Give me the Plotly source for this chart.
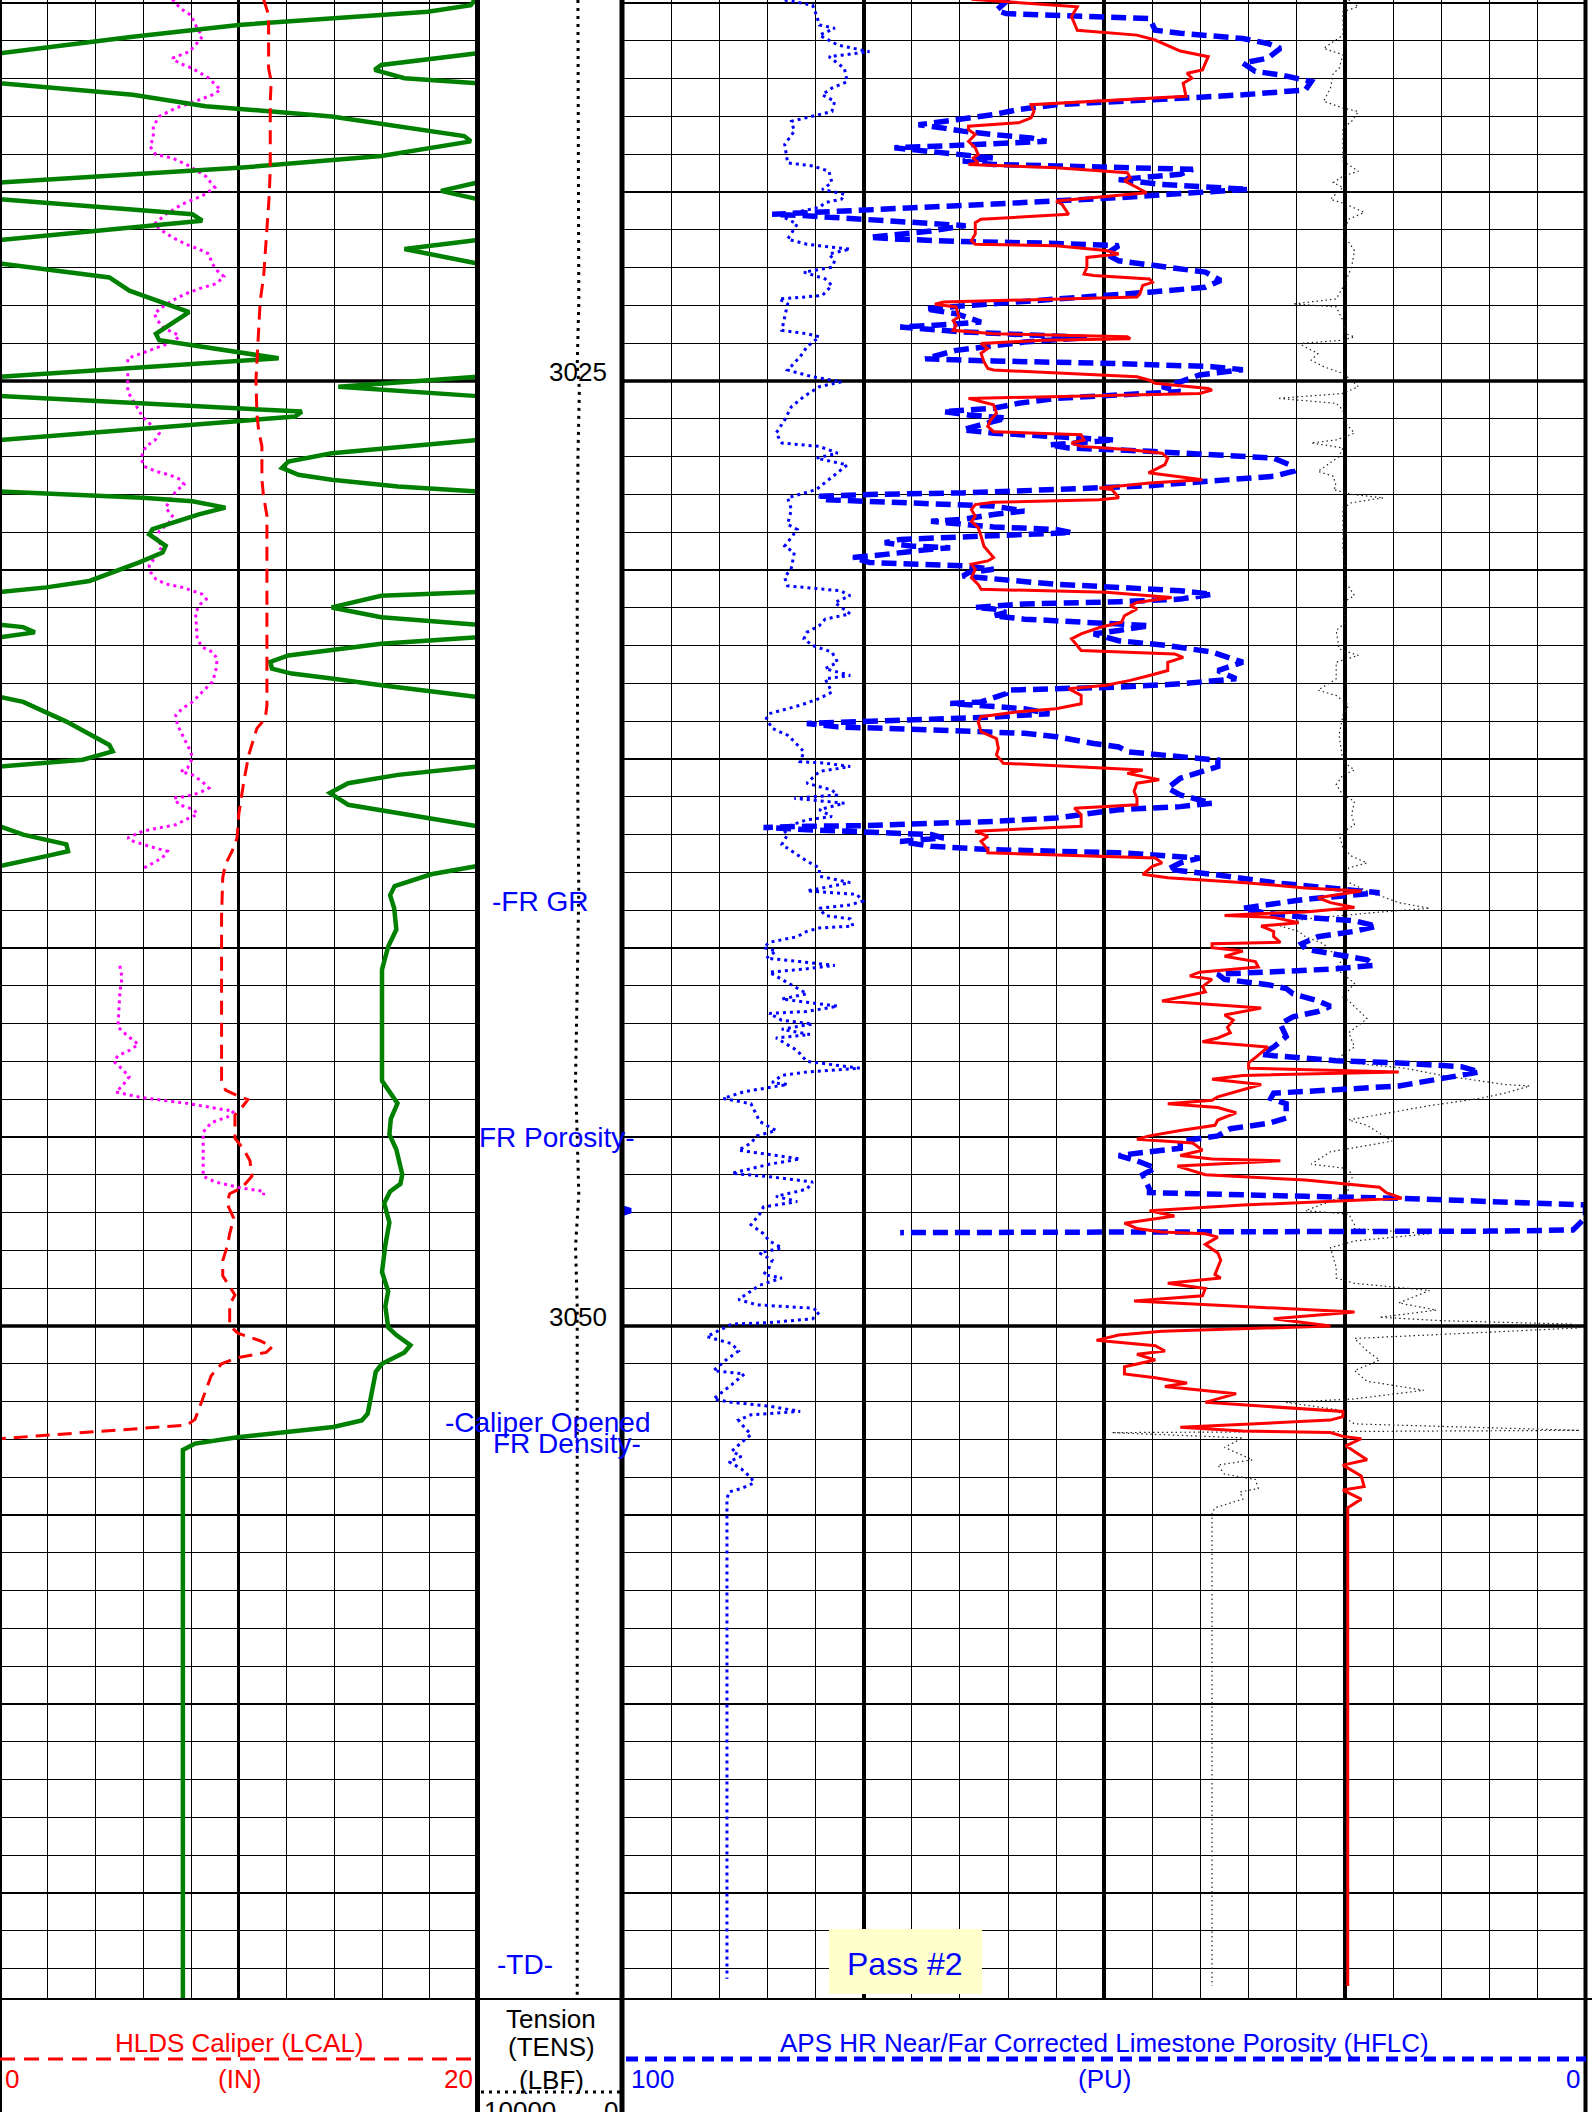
import math
import plotly.graph_objects as go

# ------------------------------------------------------------------ data
# Left track (0-20 scale). Green curve stored unwrapped (wraps every 20 units).
GREEN = [
(3014.90,19.9),(3015.06,19.72),(3015.23,17.92),(3015.58,10.0),(3015.89,5.56),(3016.33,0.0),
(3016.64,-4.03),(3016.77,-4.31),(3016.99,-3.06),(3017.12,0.0),
(3017.43,5.56),(3017.73,8.61),(3018.00,13.89),(3018.52,19.44),(3018.66,19.72),(3019.05,15.97),(3019.36,10.0),(3019.75,0.0),
(3019.97,-1.53),(3020.19,0.0),
(3020.59,8.06),(3020.76,8.47),(3021.27,0.0),
(3021.51,-3.06),(3021.89,0.0),
(3022.26,4.58),(3022.61,5.42),(3023.18,7.92),(3023.75,6.53),(3023.92,6.67),(3024.40,11.67),(3024.89,0.0),
(3025.15,-5.83),(3025.40,0.0),
(3025.81,12.64),(3025.94,12.36),(3026.56,0.0),
(3026.91,-6.11),(3027.13,-7.92),(3027.30,-8.19),(3027.48,-7.5),(3027.61,-6.11),(3027.79,-3.33),(3027.92,0.0),
(3028.09,5.97),(3028.18,8.06),(3028.35,9.44),(3028.53,8.33),(3028.92,6.39),(3029.06,6.25),(3029.36,6.94),(3029.54,6.81),(3029.80,5.83),(3030.29,3.75),(3030.46,1.94),(3030.58,0.0),
(3030.68,-4.03),(3030.99,-6.11),(3031.25,-4.03),(3031.45,0.0),
(3031.51,0.97),(3031.65,1.46),(3031.78,0.0),
(3031.95,-4.03),(3032.26,-7.92),(3032.43,-8.68),(3032.61,-8.61),(3032.74,-7.78),(3032.87,-6.11),(3033.05,-4.03),(3033.36,0.0),
(3033.49,0.97),(3034.01,2.78),(3034.63,4.58),(3034.80,4.72),(3035.02,3.47),(3035.20,0.0),
(3035.42,-3.33),(3035.64,-5.42),(3035.90,-6.18),(3036.21,-5.42),(3036.43,-3.33),(3036.78,0.0),
(3037.00,0.97),(3037.26,2.78),(3037.44,2.85),(3037.57,1.94),(3037.83,0.0),
(3038.05,-1.94),(3038.36,-3.47),(3038.60,-3.66),(3038.95,-3.49),(3039.51,-3.40),(3039.96,-3.74),(3040.57,-4.0),
(3043.51,-4.0),(3043.81,-3.66),(3044.11,-3.35),(3044.52,-3.63),(3044.93,-3.69),(3045.33,-3.40),(3045.99,-3.15),
(3046.24,-3.23),(3046.44,-3.66),(3046.75,-3.91),(3047.26,-3.69),(3047.86,-3.86),(3048.57,-4.0),(3049.08,-3.74),
(3049.48,-3.86),(3050.04,-3.74),(3050.24,-3.40),(3050.51,-2.81),(3050.70,-3.06),(3051.00,-4.0),(3051.21,-4.26),
(3052.32,-4.60),(3052.50,-4.85),(3052.67,-6.04),(3052.95,-10.13),(3053.11,-11.83),(3053.28,-12.34),(3067.90,-12.34),
]

LCAL = [
(3014.90,11.04),(3015.32,11.25),(3016.73,11.25),(3017.08,11.36),(3017.60,11.32),(3019.36,11.32),(3020.06,11.28),
(3020.94,11.18),(3021.46,11.11),(3022.25,11.04),(3022.87,10.9),(3023.57,10.83),(3024.45,10.76),(3024.98,10.72),
(3025.85,10.76),(3026.29,10.83),(3026.73,10.97),(3027.61,10.97),(3028.05,11.04),(3028.57,11.18),(3030.94,11.18),
(3033.58,11.18),(3033.93,11.11),(3034.19,10.76),(3034.89,10.42),(3035.60,10.21),(3036.47,10.0),(3037.09,9.93),
(3037.44,9.72),(3037.79,9.44),(3038.14,9.33),(3039.15,9.28),(3041.18,9.28),(3043.51,9.28),(3043.76,9.45),
(3043.91,9.96),(3044.01,10.38),(3044.22,10.13),(3044.42,9.84),(3045.03,9.84),(3045.33,10.21),(3045.63,10.47),
(3046.04,10.55),(3046.34,10.13),(3046.50,9.62),(3046.75,9.5),(3047.15,9.79),(3047.56,9.62),(3047.86,9.53),
(3048.27,9.33),(3048.67,9.33),(3048.98,9.62),(3049.18,9.84),(3049.43,9.62),(3049.99,9.62),(3050.19,9.96),
(3050.39,10.89),(3050.55,11.4),(3050.70,11.15),(3050.85,9.87),(3051.00,9.28),(3051.31,8.85),(3051.91,8.51),
(3052.47,8.17),(3052.62,7.83),(3052.72,5.62),(3052.83,3.4),(3052.98,0.0),
]

MAGENTA_UPPER = [
(3014.90,7.22),(3015.15,7.57),(3015.32,7.99),(3015.58,8.19),(3015.89,8.47),(3016.11,8.19),(3016.29,7.92),(3016.46,7.22),
(3016.59,7.5),(3016.73,8.06),(3016.99,8.75),(3017.30,9.24),(3017.43,8.89),(3017.60,8.19),(3017.78,7.36),(3018.00,6.67),
(3018.26,6.42),(3018.57,6.42),(3018.79,6.28),(3019.01,6.53),(3019.10,7.22),(3019.31,7.92),(3019.58,8.61),(3019.88,9.0),
(3020.10,8.47),(3020.32,7.64),(3020.59,6.94),(3020.85,6.46),(3021.03,6.81),(3021.20,7.22),(3021.38,7.78),(3021.51,8.33),
(3021.64,8.75),(3021.90,8.89),(3022.08,9.1),(3022.24,9.38),(3022.43,9.03),(3022.56,8.33),(3022.69,7.78),(3022.87,7.22),
(3023.04,6.81),(3023.22,6.46),(3023.40,6.6),(3023.61,6.88),(3023.75,7.36),(3023.83,7.5),(3023.97,7.22),(3024.10,6.67),
(3024.23,6.11),(3024.40,5.35),(3025.28,5.35),(3025.94,5.97),(3026.38,6.67),(3026.56,6.5),(3026.73,6.11),(3027.04,5.9),
(3027.26,6.04),(3027.39,6.53),(3027.48,7.08),(3027.61,7.57),(3027.74,7.71),(3027.92,7.36),(3028.18,7.08),(3028.36,6.94),
(3028.57,7.22),(3028.75,7.08),(3028.97,6.67),(3029.19,6.53),(3029.36,6.81),(3029.63,6.53),(3029.89,6.25),(3030.07,6.32),
(3030.24,6.53),(3030.37,6.94),(3030.46,7.64),(3030.55,8.06),(3030.64,8.47),(3030.77,8.64),(3030.90,8.4),(3031.12,8.19),
(3031.56,8.22),(3031.82,8.26),(3032.04,8.47),(3032.17,8.89),(3032.35,9.1),(3032.70,9.03),(3032.96,8.89),(3033.23,8.47),
(3033.49,8.06),(3033.66,7.64),(3033.84,7.36),(3034.10,7.43),(3034.37,7.64),(3034.63,7.85),(3034.81,7.99),(3034.98,8.06),
(3035.24,7.85),(3035.33,7.57),(3035.42,8.06),(3035.60,8.47),(3035.77,8.75),(3035.90,8.33),(3035.99,7.78),(3036.03,7.29),
(3036.21,7.5),(3036.34,8.13),(3036.47,8.26),(3036.56,7.92),(3036.74,7.36),(3036.82,6.67),(3036.91,5.97),(3037.09,5.35),
(3037.17,5.56),(3037.31,6.25),(3037.44,7.01),(3037.61,6.81),(3037.75,6.39),(3037.88,6.04),
]
MAGENTA_LOWER = [
(3040.47,5.02),(3040.77,5.11),(3041.18,5.02),(3042.09,4.94),(3042.29,5.28),(3042.55,5.79),(3042.70,5.45),(3042.85,4.94),
(3043.00,4.77),(3043.20,5.11),(3043.41,5.41),(3043.66,5.11),(3043.81,4.85),(3043.96,5.96),(3044.11,7.83),(3044.22,8.85),
(3044.32,9.79),(3044.47,9.53),(3044.62,8.85),(3044.87,8.51),(3045.23,8.51),(3045.63,8.48),(3046.04,8.51),(3046.19,9.02),
(3046.34,10.04),(3046.44,11.06),(3046.54,11.03),
]

# Depth track: tension (LBF, 10000 -> 0)
TENS = [
(3014.92,3050),(3019.0,3000),(3022.9,2990),(3024.6,3100),(3025.2,2950),(3027.0,3050),(3031.0,3100),(3036.0,3060),
(3038.5,2990),(3041.0,3100),(3043.5,3215),(3045.0,3100),(3046.5,2990),(3047.9,3215),(3049.5,3100),(3055.0,3100),(3067.8,3100),
]

# Right track (PU scale, 100 -> 0)
HFLC = [
(3014.90,59.9),(3015.10,60.8),(3015.19,61.2),(3015.28,60.2),(3015.34,53.7),(3015.41,45.3),(3015.72,44.7),(3015.80,42.1),
(3015.94,35.6),(3016.07,33.0),(3016.20,31.7),(3016.46,33.0),(3016.59,35.6),(3016.81,34.3),(3016.90,31.7),(3017.08,28.5),
(3017.30,29.1),(3017.43,35.6),(3017.52,42.1),(3017.60,48.5),(3017.69,55.0),(3017.82,58.9),(3017.95,61.5),(3018.09,65.4),
(3018.22,69.3),(3018.31,66.7),(3018.39,64.7),(3018.48,61.5),(3018.57,57.6),(3018.66,56.0),(3018.74,61.5),(3018.78,66.7),
(3018.83,71.8),(3018.92,68.0),(3019.01,64.1),(3019.10,61.5),(3019.18,64.7),(3019.27,61.5),(3019.31,55.0),(3019.34,48.5),
(3019.40,40.8),(3019.53,42.1),(3019.67,48.5),(3019.80,44.0),(3019.93,35.0),(3020.02,40.8),(3020.15,48.5),(3020.32,61.5),
(3020.46,73.1),(3020.59,84.5),(3020.63,80.9),(3020.72,74.4),(3020.83,68.0),(3020.89,64.4),(3021.03,68.0),(3021.20,74.4),
(3021.25,71.2),(3021.31,64.7),(3021.36,55.0),(3021.42,48.5),(3021.64,49.8),(3021.82,48.5),(3021.99,43.4),(3022.12,39.5),
(3022.34,37.9),(3022.52,39.5),(3022.65,45.3),(3022.83,55.0),(3023.00,64.1),(3023.09,68.6),(3023.22,65.4),(3023.44,62.8),
(3023.53,68.0),(3023.57,71.2),(3023.70,64.7),(3023.79,55.0),(3023.85,51.8),(3023.97,58.3),(3024.10,62.8),(3024.19,65.4),
(3024.41,68.6),(3024.47,61.5),(3024.54,48.5),(3024.62,38.8),(3024.70,35.6),(3024.84,40.1),(3025.02,42.1),(3025.15,44.0),
(3025.28,42.1),(3025.37,48.5),(3025.46,55.0),(3025.59,58.9),(3025.72,61.5),(3025.81,66.7),(3025.90,64.1),(3025.98,60.2),
(3026.29,64.7),(3026.38,61.5),(3026.47,55.0),(3026.56,48.9),(3026.69,55.7),(3026.77,53.7),
(3026.86,45.3),(3026.95,38.2),(3027.04,32.4),(3027.22,30.7),(3027.39,30.4),(3027.52,32.4),(3027.65,38.8),(3027.77,45.3),
(3027.87,55.0),(3027.96,64.7),(3028.00,74.4),(3028.05,79.6),(3028.14,79.0),(3028.18,74.4),(3028.22,68.0),(3028.31,61.5),
(3028.44,58.3),(3028.53,61.5),(3028.66,64.7),(3028.71,68.0),(3028.79,64.7),(3028.86,61.5),(3028.93,55.0),(3029.01,53.4),
(3029.06,58.3),(3029.12,64.7),(3029.19,71.2),(3029.28,72.8),(3029.37,69.9),(3029.41,66.0),(3029.45,68.0),(3029.58,72.5),
(3029.67,76.1),(3029.80,74.4),(3029.85,69.9),(3029.89,64.7),(3029.98,61.5),(3030.07,64.1),(3030.16,64.7),(3030.24,61.5),
(3030.38,55.0),(3030.46,48.5),(3030.55,42.1),(3030.64,38.8),(3030.77,42.1),(3030.84,48.5),(3030.90,58.3),(3030.99,63.4),
(3031.03,61.5),(3031.12,60.2),(3031.21,61.5),(3031.30,58.3),(3031.38,51.8),(3031.47,45.3),(3031.60,48.5),(3031.69,51.1),
(3031.87,48.5),(3032.00,43.4),(3032.17,38.8),(3032.44,35.6),(3032.66,38.2),(3032.88,36.3),(3033.01,42.1),(3033.10,48.5),
(3033.14,55.0),(3033.18,60.2),(3033.27,60.2),(3033.49,62.8),(3033.53,66.0),(3033.62,61.5),(3033.67,58.3),(3033.80,55.7),
(3033.89,61.5),(3033.95,68.0),(3034.00,74.4),(3034.06,80.9),(3034.15,77.7),(3034.19,71.2),(3034.26,64.7),(3034.32,58.3),
(3034.41,55.0),(3034.59,51.1),(3034.68,48.5),(3034.81,47.6),(3034.94,42.1),(3035.03,38.2),(3035.20,38.2),(3035.51,42.1),
(3035.77,43.4),(3035.95,42.1),(3036.17,38.8),(3036.26,42.1),(3036.34,48.5),(3036.56,55.0),(3036.65,61.5),(3036.72,68.0),
(3036.76,74.4),(3036.78,80.9),(3036.81,85.4),(3036.87,80.9),(3036.93,74.4),(3037.00,68.0),(3037.09,66.7),(3037.18,71.2),
(3037.31,68.0),(3037.40,61.5),(3037.44,55.0),(3037.48,48.5),(3037.62,40.1),(3037.75,42.1),(3037.92,43.4),(3038.05,38.8),
(3038.27,32.4),(3038.41,25.9),(3038.54,21.4),(3038.71,29.1),
(3038.95,35.6),(3039.09,33.0),(3039.19,29.1),(3039.28,24.0),(3039.42,21.7),(3039.56,24.0),(3039.70,27.8),(3039.89,29.5),
(3040.03,29.1),(3040.17,25.9),(3040.31,22.7),(3040.46,22.0),(3040.55,25.9),(3040.63,32.4),(3040.69,38.2),(3040.83,37.5),
(3040.97,33.0),(3041.07,31.1),(3041.21,30.4),(3041.40,27.8),(3041.54,26.5),(3041.68,27.8),(3041.82,30.4),(3042.01,31.7),
(3042.34,31.1),(3042.62,32.4),(3042.81,33.7),(3042.85,32.4),(3042.98,25.9),(3043.04,19.4),(3043.14,12.9),(3043.28,11.0),
(3043.51,16.2),(3043.65,19.4),(3043.75,25.9),(3043.84,32.4),(3043.98,32.7),(3044.12,31.1),(3044.50,31.1),(3044.64,33.0),
(3044.78,36.9),(3044.97,38.2),(3045.11,42.1),(3045.30,42.1),(3045.39,45.3),(3045.49,48.5),(3045.63,46.6),(3045.82,44.7),
(3046.00,46.0),(3046.38,45.3),(3046.47,45.3),(3046.52,38.8),(3046.57,29.1),(3046.62,19.4),(3046.71,9.7),(3046.80,0.0),
(3047.13,0.0),(3047.46,1.3),(3047.49,9.7),(3047.51,35.6),(3047.53,71.2),
]
HFLC_WRAP = [(3046.85,100.5),(3046.95,99.2),(3047.05,100.5)]

RED_SOLID = [
(3014.90,63.8),(3015.10,52.8),(3015.36,53.4),(3015.72,52.8),(3015.85,46.6),(3015.98,44.7),(3016.27,42.1),(3016.42,39.2),
(3016.77,39.8),(3016.86,41.4),(3016.99,40.9),(3017.12,41.8),(3017.47,41.5),(3017.69,57.6),(3017.87,57.3),(3018.04,57.6),
(3018.17,58.9),(3018.26,64.1),(3018.35,64.1),(3018.48,63.4),(3018.66,64.1),(3018.83,63.4),(3019.01,63.1),(3019.10,63.6),
(3019.23,63.1),(3019.27,64.1),(3019.36,55.0),(3019.49,47.6),(3019.62,47.3),(3019.71,47.9),(3019.88,46.6),(3020.02,45.6),
(3020.24,55.0),(3020.32,54.4),(3020.59,53.7),(3020.72,62.8),(3020.81,63.4),(3021.11,63.4),(3021.29,63.8),(3021.38,63.4),
(3021.42,55.0),(3021.55,49.8),(3021.64,48.5),(3021.73,51.8),(3021.99,51.8),(3022.17,52.1),(3022.21,51.1),(3022.30,45.3),
(3022.39,45.0),(3022.47,46.0),(3022.69,46.3),(3022.78,46.6),(3022.91,66.7),(3022.97,67.6),(3023.04,65.4),(3023.31,65.1),
(3023.40,65.7),(3023.53,65.4),(3023.66,65.7),(3023.75,61.5),(3023.83,47.6),(3023.88,47.3),(3023.92,56.3),(3024.01,62.8),
(3024.14,62.1),(3024.27,62.8),(3024.49,62.5),(3024.67,62.1),(3024.71,61.5),(3024.89,46.6),(3024.98,45.3),(3025.06,44.7),
(3025.20,39.2),(3025.24,38.8),(3025.33,40.1),(3025.46,64.1),(3025.63,61.5),(3025.85,61.2),(3026.03,61.8),(3026.20,62.1),
(3026.34,61.5),(3026.42,52.4),(3026.56,52.1),(3026.64,53.4),(3026.73,52.4),
(3026.82,47.3),(3026.91,44.0),(3027.04,43.4),(3027.21,43.7),(3027.43,45.4),(3027.61,39.8),(3027.70,45.3),(3027.83,50.5),
(3027.87,49.2),(3028.09,48.5),(3028.14,50.5),(3028.21,61.5),(3028.27,63.4),(3028.40,63.8),(3028.58,63.4),(3028.71,63.8),
(3028.88,63.1),(3029.10,62.8),(3029.37,62.5),(3029.67,61.5),(3029.76,62.1),(3029.85,63.8),(3029.98,63.4),(3030.20,63.8),
(3030.38,63.1),(3030.51,62.8),(3030.59,49.8),(3030.73,43.0),(3030.86,46.6),(3030.95,47.3),(3031.03,46.6),(3031.21,47.9),
(3031.38,48.2),(3031.52,50.5),(3031.69,52.4),(3031.82,53.4),(3032.00,52.8),(3032.13,52.4),(3032.22,42.7),(3032.31,41.8),
(3032.44,43.4),(3032.66,43.4),(3032.79,45.3),(3032.92,47.3),(3033.05,49.8),(3033.14,53.7),(3033.32,52.4),(3033.54,52.4),
(3033.67,55.0),(3033.75,58.9),(3033.88,62.8),(3034.02,63.1),(3034.28,62.8),(3034.46,61.2),(3034.72,61.0),(3034.89,61.2),
(3035.11,60.5),(3035.29,46.0),(3035.38,47.6),(3035.55,44.3),(3035.64,46.6),(3035.86,46.9),(3036.04,46.6),(3036.21,46.6),
(3036.30,53.1),(3036.47,52.4),(3036.78,52.4),(3036.91,63.4),(3037.05,62.1),(3037.18,62.8),(3037.40,62.1),(3037.48,62.1),
(3037.62,44.7),(3037.75,44.0),(3037.84,45.0),(3038.05,46.0),(3038.14,43.4),(3038.28,35.0),(3038.41,29.1),(3038.49,23.3),
(3038.67,27.8),(3038.80,26.5),(3038.93,24.0),
(3039.05,29.1),(3039.09,33.7),(3039.14,37.5),(3039.19,32.4),(3039.33,29.8),(3039.42,33.7),(3039.56,32.4),(3039.70,32.4),
(3039.85,31.7),(3039.89,38.8),(3039.99,38.8),(3040.08,35.6),(3040.22,37.5),(3040.36,34.3),(3040.50,34.0),(3040.64,40.1),
(3040.74,41.1),(3040.83,38.8),(3041.02,39.8),(3041.16,39.5),(3041.40,44.0),(3041.59,33.7),(3041.77,37.5),(3041.91,36.6),
(3042.10,37.2),(3042.24,36.9),(3042.38,38.2),(3042.48,39.8),(3042.62,33.0),(3042.90,34.3),(3043.04,35.0),(3043.18,35.0),
(3043.28,19.4),(3043.37,35.6),(3043.47,38.8),(3043.61,33.7),(3043.75,35.6),(3043.94,38.2),(3044.03,38.8),(3044.12,43.4),
(3044.22,38.2),(3044.36,36.3),(3044.55,38.2),(3044.69,38.5),(3044.83,42.1),(3044.97,45.3),(3045.06,46.6),(3045.16,40.8),
(3045.35,39.8),(3045.49,42.1),(3045.58,38.8),(3045.63,31.7),(3045.77,42.4),(3046.00,39.5),(3046.14,29.1),(3046.24,25.2),
(3046.33,21.4),(3046.47,20.7),(3046.62,19.1),(3046.80,35.6),(3046.95,45.3),(3047.09,42.7),(3047.18,45.3),(3047.28,47.9),
(3047.42,46.6),(3047.51,44.0),(3047.56,39.5),(3047.65,38.2),(3047.84,39.5),(3048.07,38.2),(3048.26,37.9),(3048.45,38.2),
(3048.64,38.5),(3048.73,37.9),(3048.87,43.4),(3049.01,39.5),(3049.20,39.8),(3049.34,46.9),(3049.48,35.6),(3049.63,24.0),
(3049.81,32.4),(3050.00,26.5),(3050.14,44.0),(3050.24,48.5),(3050.38,50.8),(3050.52,44.7),(3050.66,43.7),(3050.75,46.6),
(3050.90,44.7),(3051.08,47.9),(3051.27,47.9),(3051.37,44.7),(3051.51,41.4),(3051.60,43.7),(3051.79,36.3),(3052.02,39.5),
(3052.26,25.2),(3052.40,25.2),(3052.49,26.5),(3052.59,35.6),(3052.68,42.1),(3052.78,35.6),(3052.82,26.5),(3052.92,25.2),
(3052.98,23.3),(3053.17,24.9),(3053.54,22.7),(3053.68,25.2),(3053.97,23.3),(3054.25,23.0),(3054.34,25.2),(3054.58,23.3),
(3054.81,24.7),(3067.46,24.7),
]

BLUE_DOT = [
(3014.92,83.2),(3015.06,80.3),(3015.32,79.9),(3015.58,79.6),(3015.67,78.0),(3015.85,79.6),(3016.11,77.7),(3016.29,74.4),
(3016.42,78.6),(3016.73,77.0),(3017.08,76.7),(3017.25,78.3),(3017.43,79.3),(3017.60,78.0),(3017.87,78.3),(3018.04,80.9),
(3018.13,82.5),(3018.39,82.2),(3018.74,83.2),(3019.23,82.9),(3019.31,80.3),(3019.45,78.6),(3019.75,78.3),(3019.93,79.3),
(3020.06,77.0),(3020.19,77.3),(3020.28,79.0),(3020.41,79.6),(3020.54,82.2),(3020.68,83.2),(3020.85,81.9),(3021.25,82.9),
(3021.38,80.9),(3021.46,78.3),(3021.51,76.4),(3021.64,78.6),(3021.82,78.0),(3021.99,78.3),(3022.12,81.2),(3022.30,79.0),
(3022.47,78.3),(3022.74,79.3),(3022.83,83.8),(3022.96,82.9),(3023.31,83.2),(3023.66,83.5),(3023.75,80.9),(3023.83,79.6),
(3024.10,80.9),(3024.36,81.6),(3024.71,82.9),(3024.89,80.3),(3025.02,77.3),(3025.15,79.6),(3025.41,81.2),(3025.68,82.5),
(3026.03,83.2),(3026.38,84.1),(3026.64,83.5),(3026.73,79.6),
(3026.91,77.7),(3027.04,79.9),(3027.22,76.7),(3027.43,77.7),(3027.70,79.0),(3027.87,79.9),(3028.09,82.9),(3028.40,82.5),
(3028.79,82.9),(3028.93,81.9),(3029.37,83.2),(3029.54,82.2),(3029.94,82.5),(3030.20,83.2),(3030.42,82.9),(3030.51,79.0),
(3030.55,77.4),(3030.68,76.4),(3030.86,78.0),(3031.16,76.4),(3031.30,79.0),(3031.47,79.6),(3031.65,80.9),(3031.82,81.2),
(3032.00,80.3),(3032.17,78.3),(3032.44,77.7),(3032.61,79.0),(3032.79,76.4),(3032.88,79.0),(3033.23,78.3),(3033.40,79.6),
(3033.58,81.6),(3033.80,84.8),(3033.93,85.1),(3034.19,84.5),(3034.37,82.9),(3034.54,82.2),(3034.81,81.2),(3035.07,81.6),
(3035.11,79.0),(3035.20,76.4),(3035.33,79.6),(3035.64,80.9),(3035.82,78.3),(3035.95,77.7),(3036.04,82.2),(3036.17,77.0),
(3036.34,79.6),(3036.52,78.3),(3036.61,80.9),(3036.83,83.5),(3037.00,82.9),(3037.26,83.5),(3037.48,82.2),(3037.70,80.9),
(3037.88,79.6),(3038.10,79.6),(3038.27,76.4),(3038.49,80.9),(3038.58,75.7),
(3038.67,75.4),(3038.76,75.1),(3038.86,76.4),(3038.95,79.6),(3039.14,79.0),(3039.23,76.4),(3039.42,76.1),(3039.47,79.6),
(3039.56,80.9),(3039.70,81.9),(3039.85,84.8),(3039.99,85.4),(3040.08,84.1),(3040.27,85.1),(3040.36,81.6),(3040.46,78.0),
(3040.55,80.9),(3040.64,84.8),(3040.83,83.5),(3041.02,82.2),(3041.21,80.9),(3041.35,83.5),(3041.54,77.7),(3041.68,80.9),
(3041.73,84.8),(3041.91,83.5),(3042.01,80.3),(3042.15,83.5),(3042.29,80.6),(3042.38,84.1),(3042.71,81.9),(3043.00,80.9),
(3043.09,78.3),(3043.18,75.4),(3043.28,80.9),(3043.37,83.5),(3043.56,84.5),(3043.61,82.9),(3043.80,87.4),(3043.98,89.6),
(3044.12,86.7),(3044.41,86.1),(3044.59,85.8),(3044.83,84.1),(3044.97,86.1),(3045.16,86.7),(3045.35,88.0),(3045.58,81.6),
(3045.72,84.8),(3045.96,88.7),(3046.05,84.8),(3046.19,80.3),(3046.38,80.9),(3046.57,84.1),(3046.71,81.9),(3046.85,85.4),
(3047.04,85.8),(3047.32,86.7),(3047.56,85.4),(3047.75,84.8),(3047.93,83.5),(3048.07,85.8),(3048.26,84.5),(3048.45,84.8),
(3048.64,85.4),(3048.73,83.5),(3048.92,85.8),(3049.30,88.0),(3049.44,86.1),(3049.53,80.3),(3049.63,79.6),(3049.81,80.3),
(3049.91,84.8),(3049.95,88.7),(3050.28,91.3),(3050.47,88.7),(3050.66,88.0),(3050.90,89.3),(3051.18,90.6),(3051.27,87.4),
(3051.55,88.7),(3051.93,90.6),(3052.02,88.7),(3052.12,84.8),(3052.26,81.6),(3052.35,86.7),(3052.49,88.0),(3052.68,87.4),
(3052.87,86.7),(3053.15,88.0),
(3053.31,88.7),(3053.45,87.7),(3053.59,89.0),(3053.78,87.7),(3054.01,86.7),(3054.15,86.4),(3054.30,87.7),(3054.39,89.0),
(3054.58,89.2),(3067.27,89.2),
]

BLACK_DOT = [
(3014.92,24.6),(3015.10,23.6),(3015.23,25.2),(3015.85,25.2),(3016.20,27.2),(3016.37,25.2),(3016.73,25.6),(3016.86,26.2),
(3017.25,26.5),(3017.60,27.2),(3017.78,25.2),(3017.87,23.6),(3018.13,24.3),(3018.31,25.2),(3019.18,25.2),(3019.45,23.6),
(3019.58,25.2),(3019.75,26.2),(3019.88,25.2),(3020.19,26.5),(3020.32,24.9),(3020.54,23.0),(3020.72,24.6),(3021.11,25.2),
(3021.55,24.0),(3021.99,24.3),(3022.52,25.2),(3022.69,25.6),(3022.83,25.9),(3022.96,30.4),(3023.04,25.9),(3023.40,25.2),
(3023.75,24.9),(3023.83,24.0),(3023.92,25.2),(3024.01,29.8),(3024.27,27.8),(3024.45,28.5),(3024.62,27.2),(3024.80,25.2),
(3024.98,24.3),(3025.15,23.6),(3025.33,25.2),(3025.46,32.0),(3025.59,25.9),(3025.77,25.2),(3026.12,24.9),(3026.38,24.0),
(3026.56,25.9),(3026.64,28.5),(3026.77,25.2),
(3027.00,25.6),(3027.39,27.8),(3027.52,26.2),(3027.79,25.9),(3027.87,26.2),(3028.00,24.3),(3028.09,21.0),(3028.22,24.3),
(3028.36,25.2),(3029.45,25.2),(3030.33,24.9),(3030.68,24.0),(3030.86,25.2),(3031.38,24.9),(3031.60,25.9),(3032.09,25.6),
(3032.26,23.6),(3032.44,25.9),(3032.88,25.9),(3033.18,27.8),(3033.32,25.9),(3033.58,24.6),(3033.84,25.2),(3034.37,25.6),
(3035.07,25.2),(3035.29,24.0),(3035.42,25.2),(3035.68,25.9),(3035.95,25.2),(3036.12,24.0),(3036.47,24.3),(3036.74,24.0),
(3037.00,25.6),(3037.35,25.2),(3037.57,24.3),(3037.75,22.7),(3037.88,24.6),(3038.23,24.9),(3038.49,22.7),(3038.80,19.4),
(3038.95,16.2),(3039.05,21.4),(3039.23,29.1),(3039.42,31.7),(3039.56,29.8),(3039.70,29.1),(3039.89,27.2),(3040.08,26.5),
(3040.27,25.2),(3040.55,25.9),(3040.93,24.0),(3041.30,25.2),(3041.40,24.6),(3041.87,22.7),(3042.24,24.6),(3042.62,24.0),
(3042.81,25.2),(3043.00,25.9),(3043.18,18.8),(3043.37,14.9),(3043.61,8.4),(3043.65,5.8),(3043.84,8.4),(3043.98,11.0),
(3044.17,16.2),(3044.55,24.6),(3044.69,22.7),(3045.11,20.1),(3045.39,26.5),(3045.72,28.5),(3045.82,25.2),(3046.00,24.0),
(3046.19,24.6),(3046.38,24.6),(3046.57,25.2),(3046.95,29.1),(3047.04,24.6),(3047.32,24.0),(3047.42,24.0),(3047.56,16.2),
(3047.75,24.0),(3047.93,26.5),(3048.45,25.9),(3048.73,25.9),(3048.87,24.0),(3049.06,16.2),(3049.39,19.4),(3049.58,15.5),
(3049.77,21.4),(3049.86,14.9),(3049.95,1.3),(3050.05,0.6),(3050.33,24.0),(3050.66,22.7),(3050.90,21.4),(3051.18,24.0),
(3051.46,22.7),(3051.70,16.8),(3051.93,24.0),(3052.02,31.1),(3052.21,25.9),(3052.40,25.2),(3052.59,24.0),(3052.76,0.6),
(3052.82,49.2),(3052.96,35.6),(3053.21,37.5),
(3053.54,34.6),(3053.68,38.2),(3053.92,37.5),(3054.06,34.3),(3054.30,34.0),(3054.39,35.9),(3054.58,35.6),(3054.81,38.5),
(3054.95,38.8),(3067.46,38.8),
]

EVENT_LABELS = ["-FR GR", "FR Porosity-", "-Caliper Opened", "FR Density-", "-TD-"]
EVENT_DEPTHS = [3038.78, 3045.00, 3052.54, 3053.12, 3066.88]

# ------------------------------------------------------------------ layout constants
W, H = 1592, 2112
LOG_BOTTOM = 1999
FT_PX = 37.8
DEPTH_TOP = 3025 - 381 / FT_PX
DEPTH_BOT = DEPTH_TOP + LOG_BOTTOM / FT_PX
FONT = "Liberation Sans, Arial, Helvetica, sans-serif"
C_BLUE, C_RED, C_GREEN, C_MAG = "#0000FF", "#FF0000", "#008000", "#FF00FF"

L_X0, L_X1 = 0, 477.5
D_X0, D_X1 = 477.5, 622
R_X0, R_X1 = 623, 1585.5
EVENT_X = [540, 557, 547, 567, 525]


def px(x):
    return x / W


def py(y):
    return 1 - y / H


def unzip(pairs):
    return [p[0] for p in pairs], [p[1] for p in pairs]


def wrap(depths, vals, period=20.0):
    xs, ys = [], []
    for i, (d, v) in enumerate(zip(depths, vals)):
        if i > 0:
            d0, v0 = depths[i - 1], vals[i - 1]
            if (v0 >= 0) != (v >= 0):
                t = v0 / (v0 - v)
                dc = d0 + t * (d - d0)
                if v0 >= 0:
                    xs += [0, None, period]
                else:
                    xs += [period, None, 0]
                ys += [dc, None, dc]
        xs.append(v if v >= 0 else v + period)
        ys.append(d)
    return xs, ys


fig = go.Figure()


def add(pairs, axes, color, width, dash=None, wrapped=False):
    d, v = unzip(pairs)
    if wrapped:
        v, d = wrap(d, v)
    fig.add_trace(go.Scatter(x=v, y=d, mode="lines", xaxis=axes[0], yaxis=axes[1],
                             line=dict(color=color, width=width, dash=dash),
                             hoverinfo="skip", connectgaps=False, showlegend=False))


LEFT, MID, RIGHT = ("x", "y"), ("x2", "y2"), ("x3", "y3")
add(MAGENTA_UPPER, LEFT, C_MAG, 3, "3px,4px")
add(MAGENTA_LOWER, LEFT, C_MAG, 3, "3px,4px")
add(GREEN, LEFT, C_GREEN, 4.5, None, wrapped=True)
add(LCAL, LEFT, C_RED, 3, "14px,8px")
add(TENS, MID, "black", 3, "3px,5px")
add(BLACK_DOT, RIGHT, "#222222", 1.2, "1.5px,3px")
add(BLUE_DOT, RIGHT, C_BLUE, 3, "3px,4px")
add(HFLC, RIGHT, C_BLUE, 5.5, "15px,7px")
add(HFLC_WRAP, RIGHT, C_BLUE, 5.5, None)
add(RED_SOLID, RIGHT, C_RED, 3, None)

ydom = [1 - LOG_BOTTOM / H, 1]
common_y = dict(domain=ydom, range=[DEPTH_BOT, DEPTH_TOP], autorange=False, showticklabels=False,
                ticks="", zeroline=False, showline=False, fixedrange=True)
grid_y = dict(showgrid=True, dtick=5, tick0=3015, gridcolor="black", gridwidth=2,
              minor=dict(dtick=1, tick0=3015, showgrid=True, gridcolor="black", gridwidth=1.3, ticks=""))
common_x = dict(showticklabels=False, ticks="", zeroline=False, showline=False, fixedrange=True)

fig.update_layout(
    width=W, height=H, margin=dict(l=0, r=0, t=0, b=0, pad=0),
    paper_bgcolor="white", plot_bgcolor="white", showlegend=False,
    xaxis=dict(domain=[px(L_X0), px(L_X1)], range=[0, 20], showgrid=True, dtick=10, tick0=0,
               gridcolor="black", gridwidth=3, anchor="y",
               minor=dict(dtick=2, tick0=0, showgrid=True, gridcolor="black", gridwidth=1.3, ticks=""), **common_x),
    xaxis2=dict(domain=[px(D_X0), px(D_X1)], range=[10000, 0], showgrid=False, anchor="y2", **common_x),
    xaxis3=dict(domain=[px(R_X0), px(R_X1)], range=[100, 0], showgrid=True, dtick=25, tick0=0,
                gridcolor="black", gridwidth=3.5, anchor="y3",
                minor=dict(dtick=5, tick0=0, showgrid=True, gridcolor="black", gridwidth=1.3, ticks=""), **common_x),
    yaxis=dict(anchor="x", **common_y, **grid_y),
    yaxis2=dict(anchor="x2", showgrid=False, **common_y),
    yaxis3=dict(anchor="x3", **common_y, **grid_y),
)

shapes = []
first25 = int(math.ceil(DEPTH_TOP / 25.0)) * 25
for dep in range(first25, int(DEPTH_BOT) + 1, 25):
    for xr, yr in (("x domain", "y"), ("x3 domain", "y3")):
        shapes.append(dict(type="line", xref=xr, yref=yr, x0=0, x1=1, y0=dep, y1=dep,
                           line=dict(color="black", width=3.5), layer="below"))

# track borders (full height, through the header)
for xb, wb in ((L_X1, 5), (D_X1, 5), (R_X1, 4), (1.0, 2)):
    shapes.append(dict(type="line", xref="paper", yref="paper", x0=px(xb), x1=px(xb),
                       y0=0, y1=1, line=dict(color="black", width=wb), layer="above"))
# header top line
shapes.append(dict(type="line", xref="paper", yref="paper", x0=0, x1=1, y0=py(1999), y1=py(1999),
                   line=dict(color="black", width=2), layer="above"))
# header curve keys
shapes.append(dict(type="line", xref="paper", yref="paper", x0=px(0), x1=px(476), y0=py(2059), y1=py(2059),
                   line=dict(color=C_RED, width=3, dash="15px,9px"), layer="above"))
shapes.append(dict(type="line", xref="paper", yref="paper", x0=px(481), x1=px(620), y0=py(2092), y1=py(2092),
                   line=dict(color="black", width=3, dash="3px,5px"), layer="above"))
shapes.append(dict(type="line", xref="paper", yref="paper", x0=px(626), x1=px(1586), y0=py(2059), y1=py(2059),
                   line=dict(color=C_BLUE, width=5, dash="12px,7px"), layer="above"))
# Pass box
shapes.append(dict(type="rect", xref="paper", yref="paper", x0=px(829), x1=px(982), y0=py(1994), y1=py(1929),
                   fillcolor="#FFFFCC", line=dict(width=0), layer="above"))
fig.update_layout(shapes=shapes)

ann = []


def text(t, x, y, color, size=26, anchor="center"):
    ann.append(dict(text=t, x=px(x), y=py(y), xref="paper", yref="paper", showarrow=False,
                    xanchor=anchor, yanchor="middle", font=dict(family=FONT, size=size, color=color)))


text("HLDS Caliper (LCAL)", 240, 2043, C_RED)
text("0", 3, 2079, C_RED, anchor="left")
text("(IN)", 240, 2079, C_RED)
text("20", 475, 2079, C_RED, anchor="right")
text("Tension", 551, 2019, "black")
text("(TENS)", 551, 2047, "black")
text("(LBF)", 551, 2080, "black")
text("10000", 482, 2111, "black", anchor="left")
text("0", 620, 2111, "black", anchor="right")
text("APS HR Near/Far Corrected Limestone Porosity (HFLC)", 1104, 2043, C_BLUE)
text("100", 629, 2079, C_BLUE, anchor="left")
text("(PU)", 1104, 2079, C_BLUE)
text("0", 1582, 2079, C_BLUE, anchor="right")
text("Pass #2", 905, 1964, C_BLUE, size=32)

for dep in range(first25, int(DEPTH_BOT) + 1, 25):
    ann.append(dict(text=str(dep), x=px(578), y=dep, xref="paper", yref="y2", yshift=9, showarrow=False,
                    xanchor="center", yanchor="middle", font=dict(family=FONT, size=26, color="black")))
for lab, dep, xx in zip(EVENT_LABELS, EVENT_DEPTHS, EVENT_X):
    ann.append(dict(text=lab, x=px(xx), y=dep, xref="paper", yref="y2", showarrow=False,
                    xanchor="center", yanchor="middle", font=dict(family=FONT, size=28, color=C_BLUE)))
fig.update_layout(annotations=ann)

fig.write_html("out.html", config={"displayModeBar": False},
               post_script="document.body.style.margin='0px';document.body.style.overflow='hidden';")
